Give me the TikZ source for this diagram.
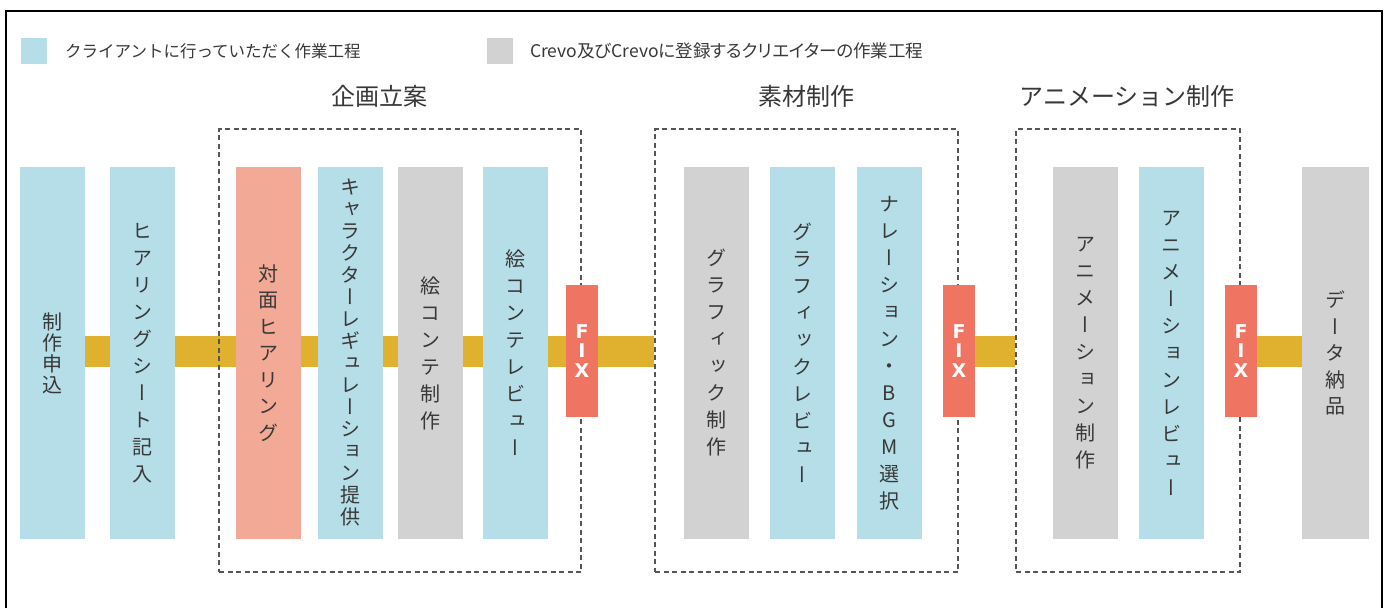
\documentclass[tikz,border=0pt]{standalone}
\usepackage{fontspec}
\newfontfamily\jp{Noto Sans CJK JP}
\newfontfamily\jpp[RawFeature=+palt]{Noto Sans CJK JP}
\newfontfamily\vjp[RawFeature=+vert]{Noto Sans CJK JP}
\newfontfamily\fixfont{DejaVu Sans}
\usetikzlibrary{backgrounds}
\definecolor{cblue}{HTML}{B6DEE8}
\definecolor{cgray}{HTML}{D2D2D2}
\definecolor{csalmon}{HTML}{F2A995}
\definecolor{cfix}{HTML}{EF7462}
\definecolor{cband}{HTML}{E0B12F}
\definecolor{ctxt}{HTML}{383838}
\definecolor{cdash}{HTML}{555555}
\tikzset{
  bar/.style={rectangle, inner sep=0pt, minimum width=65pt, minimum height=372pt,
    align=center, text=ctxt, font=\vjp\fontsize{20}{27}\selectfont},
  cl/.style={bar, fill=cblue},
  cr/.style={bar, fill=cgray},
  fc/.style={bar, fill=csalmon},
  fixbox/.style={rectangle, inner sep=0pt, minimum width=32pt, minimum height=132pt,
    fill=cfix, align=center, text=white, font=\fixfont\bfseries\fontsize{19}{19.5}\selectfont},
  grp/.style={rectangle, draw=cdash, line width=2pt, dash pattern=on 5pt off 3.5pt, inner sep=0pt},
  band/.style={draw=cband, line width=31pt},
  ttl/.style={text=ctxt, font=\jp\fontsize{24}{26}\selectfont, inner sep=0pt},
  leg/.style={text=ctxt, inner sep=0pt, anchor=west},
  sq/.style={rectangle, inner sep=0pt, minimum width=26pt, minimum height=26pt, anchor=north west}
}
\begin{document}
\begin{tikzpicture}[x=1pt,y=-1pt]
\useasboundingbox (0,0) rectangle (1389,608);
% frame
\draw[line width=2pt, black] (6,608) -- (6,11) -- (1382,11) -- (1382,608);
% legend
\node[sq, fill=cblue] (lq1) at (21,38) {};
\node[leg, font=\jp\fontsize{16.5}{18}\selectfont] (lt1) at (65,51) {クライアントに行っていただく作業工程};
\node[sq, fill=cgray] (lq2) at (487,38) {};
\node[leg, font=\jpp\fontsize{17.5}{18}\selectfont] (lt2) at (530,51) {Crevo及びCrevoに登録するクリエイターの作業工程};
% titles
\node[ttl] (t1) at (379,96) {企画立案};
\node[ttl] (t2) at (806,96) {素材制作};
\node[ttl] (t3) at (1127,96) {アニメーション制作};
% bars
\node[cl, font=\vjp\fontsize{20}{21}\selectfont] (b1) at (52.5,353) {制\\作\\申\\込};
\node[cl] (b2) at (142,353) {ヒ\\ア\\リ\\ン\\グ\\シ\\ー\\ト\\記\\入};
\node[fc, font=\vjp\fontsize{20}{26.5}\selectfont] (b3) at (268,353) {対\\面\\ヒ\\ア\\リ\\ン\\グ};
\node[cl, font=\vjp\fontsize{20}{22}\selectfont] (b4) at (350,353) {キ\\ャ\\ラ\\ク\\タ\\ー\\レ\\ギ\\ュ\\レ\\ー\\シ\\ョ\\ン\\提\\供};
\node[cr] (b5) at (430,353) {絵\\コ\\ン\\テ\\制\\作};
\node[cl] (b6) at (515.5,353) {絵\\コ\\ン\\テ\\レ\\ビ\\ュ\\ー};
\node[cr] (b7) at (716,353) {グ\\ラ\\フ\\ィ\\ッ\\ク\\制\\作};
\node[cl] (b8) at (802.5,353) {グ\\ラ\\フ\\ィ\\ッ\\ク\\レ\\ビ\\ュ\\ー};
\node[cl] (b9) at (889.5,353) {ナ\\レ\\ー\\シ\\ョ\\ン\\・\\B\\G\\M\\選\\択};
\node[cr] (b10) at (1085,353) {ア\\ニ\\メ\\ー\\シ\\ョ\\ン\\制\\作};
\node[cl] (b11) at (1171.5,353) {ア\\ニ\\メ\\ー\\シ\\ョ\\ン\\レ\\ビ\\ュ\\ー};
\node[cr, minimum width=67pt, font=\vjp\fontsize{20}{26.5}\selectfont] (b12) at (1335.5,353) {デ\\ー\\タ\\納\\品};
% groups
\node[grp, minimum width=362pt, minimum height=443pt] (g1) at (400,350.5) {};
\node[grp, minimum width=303pt, minimum height=443pt] (g2) at (806.5,350.5) {};
\node[grp, minimum width=224pt, minimum height=443pt] (g3) at (1128,350.5) {};
% FIX boxes (over the dashed lines)
\node[fixbox] (f1) at (582,351) {F\\I\\X};
\node[fixbox] (f2) at (959,351) {F\\I\\X};
\node[fixbox] (f3) at (1241,351) {F\\I\\X};
% background and band
\begin{scope}[on background layer]
\fill[white] (0,0) rectangle (1389,608);
\draw[band] (b1.east |- f1) -- (g2.west |- f1);
\draw[band] (f2.east) -- (g3.west |- f2);
\draw[band] (f3.east) -- (b12.west |- f3);
\end{scope}
\end{tikzpicture}
\end{document}
